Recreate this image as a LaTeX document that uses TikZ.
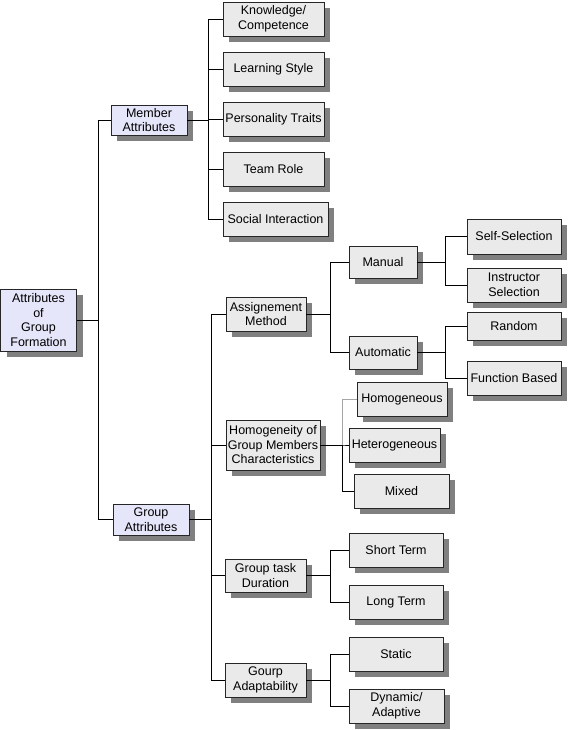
\documentclass[tikz,border=0pt]{standalone}
\usepackage{fontspec}
\setmainfont{Liberation Sans}
\usetikzlibrary{shadows}

\definecolor{boxgray}{RGB}{234,234,234}
\definecolor{lavender}{RGB}{230,230,250}
\definecolor{shadowgray}{RGB}{128,128,128}

\tikzset{
  attr/.style={rectangle, draw=black!85, line width=0.8pt,
               fill=boxgray, align=center, inner sep=0pt,
               font=\fontsize{12.5}{14.5}\selectfont,
               drop shadow={shadow xshift=6pt, shadow yshift=-6pt,
                            fill=shadowgray, opacity=1}},
  main/.style={attr, fill=lavender},
  link/.style={line width=0.8pt, black}
}

\begin{document}
\begin{tikzpicture}[x=1pt,y=-1pt]
  \useasboundingbox (0,0) rectangle (568,730);

  % root and first level
  \node[main, minimum width=76, minimum height=62] (root) at (38.5,320) {Attributes\\of\\Group\\Formation};
  \node[main, minimum width=76, minimum height=30] (member) at (149,120) {Member\\Attributes};
  \node[main, minimum width=76, minimum height=31] (group) at (151,519.5) {Group\\Attributes};

  % member attributes
  \node[attr, minimum width=101, minimum height=34] (knowledge) at (273.5,19) {Knowledge/\\Competence};
  \node[attr, minimum width=101, minimum height=34] (learning) at (273.5,69) {Learning Style};
  \node[attr, minimum width=101, minimum height=34] (personality) at (273.5,119) {Personality Traits};
  \node[attr, minimum width=101, minimum height=34] (teamrole) at (273.5,169) {Team Role};
  \node[attr, minimum width=105, minimum height=34] (social) at (275.5,219) {Social Interaction};

  % group attributes
  \node[attr, minimum width=80, minimum height=34] (assign) at (266,314) {Assignement\\Method};
  \node[attr, minimum width=94, minimum height=50] (homog) at (273,445) {Homogeneity of\\Group Members\\Characteristics};
  \node[attr, minimum width=81, minimum height=33] (duration) at (265.5,575.5) {Group task\\Duration};
  \node[attr, minimum width=81, minimum height=34] (adapt) at (265.5,680) {Gourp\\Adaptability};

  % assignment method
  \node[attr, minimum width=68, minimum height=32] (manual) at (383,262) {Manual};
  \node[attr, minimum width=68, minimum height=33] (automatic) at (383,352.5) {Automatic};
  \node[attr, minimum width=94, minimum height=35] (selfsel) at (514,236.5) {Self-Selection};
  \node[attr, minimum width=94, minimum height=34] (instructor) at (514,285) {Instructor\\Selection};
  \node[attr, minimum width=94, minimum height=28] (random) at (514,326) {Random};
  \node[attr, minimum width=94, minimum height=34] (function) at (514,378) {Function Based};

  % homogeneity
  \node[attr, minimum width=90, minimum height=34] (homogeneous) at (402,399) {Homogeneous};
  \node[attr, minimum width=91, minimum height=34] (heterogeneous) at (394.5,445) {Heterogeneous};
  \node[attr, minimum width=95, minimum height=34] (mixed) at (401.5,491) {Mixed};

  % duration and adaptability
  \node[attr, minimum width=94, minimum height=34] (short) at (396,550) {Short Term};
  \node[attr, minimum width=94, minimum height=34] (long) at (396,602) {Long Term};
  \node[attr, minimum width=94, minimum height=34] (static) at (396,654) {Static};
  \node[attr, minimum width=95, minimum height=34] (dynamic) at (396.5,706) {Dynamic/\\Adaptive};

  % connectors
  \foreach \c in {member,group}
    \draw[link] (root.east) -- ++(21,0) |- (\c.west);
  \foreach \c in {knowledge,learning,personality,teamrole,social}
    \draw[link] (member.east) -- ++(21,0) |- (\c.west);
  \foreach \c in {assign,homog,duration,adapt}
    \draw[link] (group.east) -- ++(22,0) |- (\c.west);
  \foreach \c in {manual,automatic}
    \draw[link] (assign.east) -- ++(24,0) |- (\c.west);
  \foreach \c in {selfsel,instructor}
    \draw[link] (manual.east) -- ++(28,0) |- (\c.west);
  \foreach \c in {random,function}
    \draw[link] (automatic.east) -- ++(28,0) |- (\c.west);
  \draw[link, black!35] (homog.east) -- ++(22,0) |- (homogeneous.west);
  \foreach \c in {heterogeneous,mixed}
    \draw[link] (homog.east) -- ++(22,0) |- (\c.west);
  \foreach \c in {short,long}
    \draw[link] (duration.east) -- ++(24,0) |- (\c.west);
  \foreach \c in {static,dynamic}
    \draw[link] (adapt.east) -- ++(24,0) |- (\c.west);

\end{tikzpicture}
\end{document}
